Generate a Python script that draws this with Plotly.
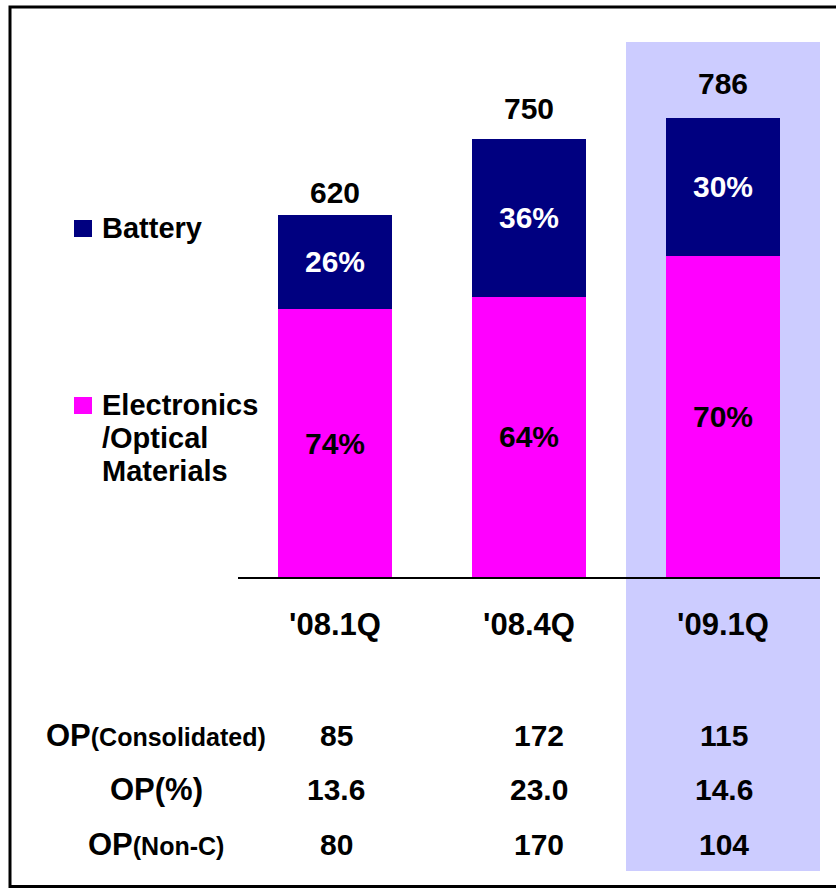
import plotly.graph_objects as go

# ---------------- data ----------------
quarters = ["'08.1Q", "'08.4Q", "'09.1Q"]
totals = [620, 750, 786]
battery_pct = [26, 36, 30]
electronics_pct = [74, 64, 70]
row_labels = [
    "<b>OP<span style='font-size:25px'>(Consolidated)</span></b>",
    "<b>OP(%)</b>",
    "<b>OP<span style='font-size:25px'>(Non-C)</span></b>",
]
op_consolidated = ["85", "172", "115"]
op_percent = ["13.6", "23.0", "14.6"]
op_non_c = ["80", "170", "104"]
legend_battery = "Battery"
legend_electronics = ["Electronics", "/Optical", "Materials"]

# ---------------- style ----------------
W, H = 836, 888
FONT = "Liberation Sans, Arial, Helvetica, sans-serif"
NAVY = "#000080"
MAGENTA = "#FF00FF"
HIGHLIGHT = "#CCCCFF"


def px(x):
    return x / W


def py(y):
    return 1 - y / H


electronics = [t * p / 100 for t, p in zip(totals, electronics_pct)]
battery = [t * p / 100 for t, p in zip(totals, battery_pct)]

fig = go.Figure()
fig.add_trace(go.Bar(x=quarters, y=electronics, name="Electronics/Optical Materials",
                     marker=dict(color=MAGENTA, line=dict(width=0)), hoverinfo="skip"))
fig.add_trace(go.Bar(x=quarters, y=battery, name="Battery",
                     marker=dict(color=NAVY, line=dict(width=0)), hoverinfo="skip"))

annotations = []
# totals above bars
total_yshift = [4, 12, 16]
for q, t, ys in zip(quarters, totals, total_yshift):
    annotations.append(dict(x=q, y=t, xref="x", yref="y", text=f"<b>{t}</b>",
                            showarrow=False, yanchor="bottom", yshift=ys,
                            font=dict(family=FONT, size=30, color="black")))
# segment percentages
for q, e, b, ep, bp in zip(quarters, electronics, battery, electronics_pct, battery_pct):
    annotations.append(dict(x=q, y=e / 2, xref="x", yref="y", text=f"<b>{ep}%</b>",
                            showarrow=False, font=dict(family=FONT, size=30, color="black")))
    annotations.append(dict(x=q, y=e + b / 2, xref="x", yref="y", text=f"<b>{bp}%</b>",
                            showarrow=False, font=dict(family=FONT, size=30, color="white")))

# table
row_y = [735, 789, 844]
col_xshift = [1, 10, 1]
rows = [op_consolidated, op_percent, op_non_c]
for lbl, vals, yy in zip(row_labels, rows, row_y):
    annotations.append(dict(x=px(156), y=py(yy), xref="paper", yref="paper", text=lbl,
                            showarrow=False, xanchor="center", yanchor="middle",
                            font=dict(family=FONT, size=31, color="black")))
    for q, v, xs in zip(quarters, vals, col_xshift):
        annotations.append(dict(x=q, y=py(yy), xref="x", yref="paper", text=f"<b>{v}</b>",
                                showarrow=False, xshift=xs, yanchor="middle",
                                font=dict(family=FONT, size=30, color="black")))

# legend (manual)
annotations.append(dict(x=px(100), y=py(228), xref="paper", yref="paper",
                        text=f"<b>{legend_battery}</b>", showarrow=False,
                        xanchor="left", yanchor="middle",
                        font=dict(family=FONT, size=29, color="black")))
for line, yy in zip(legend_electronics, [405, 438, 471]):
    annotations.append(dict(x=px(100), y=py(yy), xref="paper", yref="paper",
                            text=f"<b>{line}</b>", showarrow=False,
                            xanchor="left", yanchor="middle",
                            font=dict(family=FONT, size=29, color="black")))

shapes = [
    # highlight of latest quarter
    dict(type="rect", xref="x", yref="paper", x0=1.5, x1=2.5, y0=py(871), y1=py(42),
         fillcolor=HIGHLIGHT, line=dict(width=0), layer="below"),
    # outer frame
    dict(type="rect", xref="paper", yref="paper", x0=px(10), x1=px(850),
         y0=py(886.5), y1=py(7), line=dict(color="black", width=3)),
    # legend swatches
    dict(type="rect", xref="paper", yref="paper", x0=px(74), x1=px(92),
         y0=py(237), y1=py(220), fillcolor=NAVY, line=dict(width=0)),
    dict(type="rect", xref="paper", yref="paper", x0=px(74), x1=px(92),
         y0=py(414), y1=py(397), fillcolor=MAGENTA, line=dict(width=0)),
]

fig.update_layout(
    width=W, height=H,
    margin=dict(l=0, r=0, t=0, b=0),
    paper_bgcolor="white",
    plot_bgcolor="rgba(0,0,0,0)",
    barmode="stack",
    bargap=0.412,
    showlegend=False,
    annotations=annotations,
    shapes=shapes,
    xaxis=dict(domain=[px(238), px(820)], type="category", range=[-0.5, 2.5],
               showline=True, linecolor="black", linewidth=2, showgrid=False,
               ticks="outside", ticklen=19, tickcolor="rgba(0,0,0,0)",
               tickfont=dict(family=FONT, size=31, color="black", weight="bold"),
               fixedrange=True),
    yaxis=dict(domain=[py(577), py(42)], range=[0, 916], visible=False,
               showgrid=False, zeroline=False, fixedrange=True),
)

fig.write_html("out.html", config={"displayModeBar": False},
               post_script="document.body.style.margin='0';document.body.style.overflow='hidden';")
